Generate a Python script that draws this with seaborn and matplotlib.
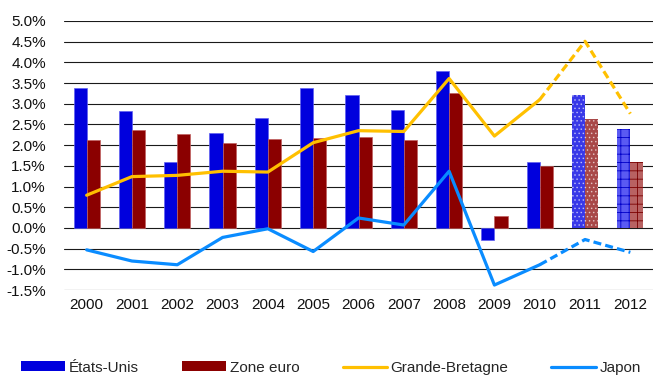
import matplotlib
matplotlib.use("Agg")
import matplotlib.pyplot as plt
import seaborn as sns
import pandas as pd
import numpy as np
from matplotlib.patches import Patch
from matplotlib.lines import Line2D

years = ["2000", "2001", "2002", "2003", "2004", "2005", "2006",
         "2007", "2008", "2009", "2010", "2011", "2012"]
etats_unis = [3.37, 2.82, 1.60, 2.30, 2.66, 3.38, 3.20, 2.86, 3.80, -0.30, 1.60, 3.20, 2.40]
zone_euro = [2.12, 2.37, 2.26, 2.06, 2.15, 2.18, 2.19, 2.13, 3.26, 0.30, 1.50, 2.62, 1.60]
grande_bretagne = [0.79, 1.24, 1.27, 1.37, 1.35, 2.06, 2.35, 2.33, 3.61, 2.22, 3.10, 4.51, 2.76]
japon = [-0.53, -0.80, -0.89, -0.23, -0.02, -0.57, 0.24, 0.07, 1.37, -1.38, -0.89, -0.28, -0.59]
first_forecast = "2011"

BLUE = "#0000DD"
RED = "#8B0000"
GOLD = "#FFC000"
SKY = "#0A8CFF"

sns.set_theme(style="white")
plt.rcParams["font.family"] = ["Liberation Sans", "DejaVu Sans"]
plt.rcParams["hatch.linewidth"] = 0.6

bars = pd.DataFrame({
    "year": years * 2,
    "value": etats_unis + zone_euro,
    "zone": ["États-Unis"] * len(years) + ["Zone euro"] * len(years),
})

fig = plt.figure(figsize=(6.54, 3.76), dpi=100)
ax = fig.add_axes([64 / 654, 86 / 376, 589 / 654, 269 / 376])

sns.barplot(data=bars, x="year", y="value", hue="zone", order=years,
            hue_order=["États-Unis", "Zone euro"],
            palette=[BLUE, RED], width=0.58, saturation=1,
            legend=False, ax=ax, zorder=3)

# projected years get lighter, textured bars
n = len(years)
fc_idx = years.index(first_forecast)
for k, patch in enumerate(ax.patches[: 2 * n]):
    series, i = divmod(k, n)
    if i == fc_idx:
        patch.set_facecolor("#3838E8" if series == 0 else "#A84848")
        patch.set_edgecolor((1, 1, 1, 0.55))
        patch.set_linewidth(0)
        patch.set_hatch("....")
    elif i > fc_idx:
        patch.set_facecolor("#5A5AF2" if series == 0 else "#B86262")
        patch.set_edgecolor("#0000C8" if series == 0 else "#7A0000")
        patch.set_linewidth(0)
        patch.set_hatch("++")
    else:
        patch.set_edgecolor("#6060F0" if series == 0 else "#C06060")
        patch.set_linewidth(0.5)

pos = np.arange(n)
split = fc_idx - 1
for vals, col in [(grande_bretagne, GOLD), (japon, SKY)]:
    sns.lineplot(x=pos[: split + 1], y=vals[: split + 1], color=col,
                 linewidth=2.3, ax=ax, zorder=4)
    sns.lineplot(x=pos[split:], y=vals[split:], color=col,
                 linewidth=2.3, linestyle=(0, (2.5, 1.3)), ax=ax, zorder=4)

ax.set_xlim(-0.5, n - 0.5)
ax.set_ylim(-1.5, 5.0)
yt = np.arange(-1.5, 5.01, 0.5)
ax.set_yticks(yt)
ax.set_yticklabels([f"{v:.1f}%" for v in yt])
ax.set_xticks(pos)
ax.set_xticklabels(years)
ax.set_xlabel("")
ax.set_ylabel("")
for v in yt:
    ax.axhline(v, color="#1a1a1a", linewidth=0.8, zorder=1)
for s in ax.spines.values():
    s.set_visible(False)
ax.tick_params(axis="both", length=0, labelsize=11, colors="#111111")
ax.tick_params(axis="y", pad=13)
ax.tick_params(axis="x", pad=6)

handles = [
    Patch(facecolor=BLUE, edgecolor="none"),
    Patch(facecolor=RED, edgecolor="none"),
    Line2D([], [], color=GOLD, linewidth=2.3),
    Line2D([], [], color=SKY, linewidth=2.3),
]
labels = ["États-Unis", "Zone euro", "Grande-Bretagne", "Japon"]
fig.legend(handles, labels, loc="center", bbox_to_anchor=(0.506, 0.022),
           ncol=4, frameon=False, fontsize=11, handlelength=2.9,
           handleheight=0.6, handletextpad=0.25, columnspacing=2.8,
           borderpad=0, borderaxespad=0)

fig.savefig("out.png", dpi=100)
